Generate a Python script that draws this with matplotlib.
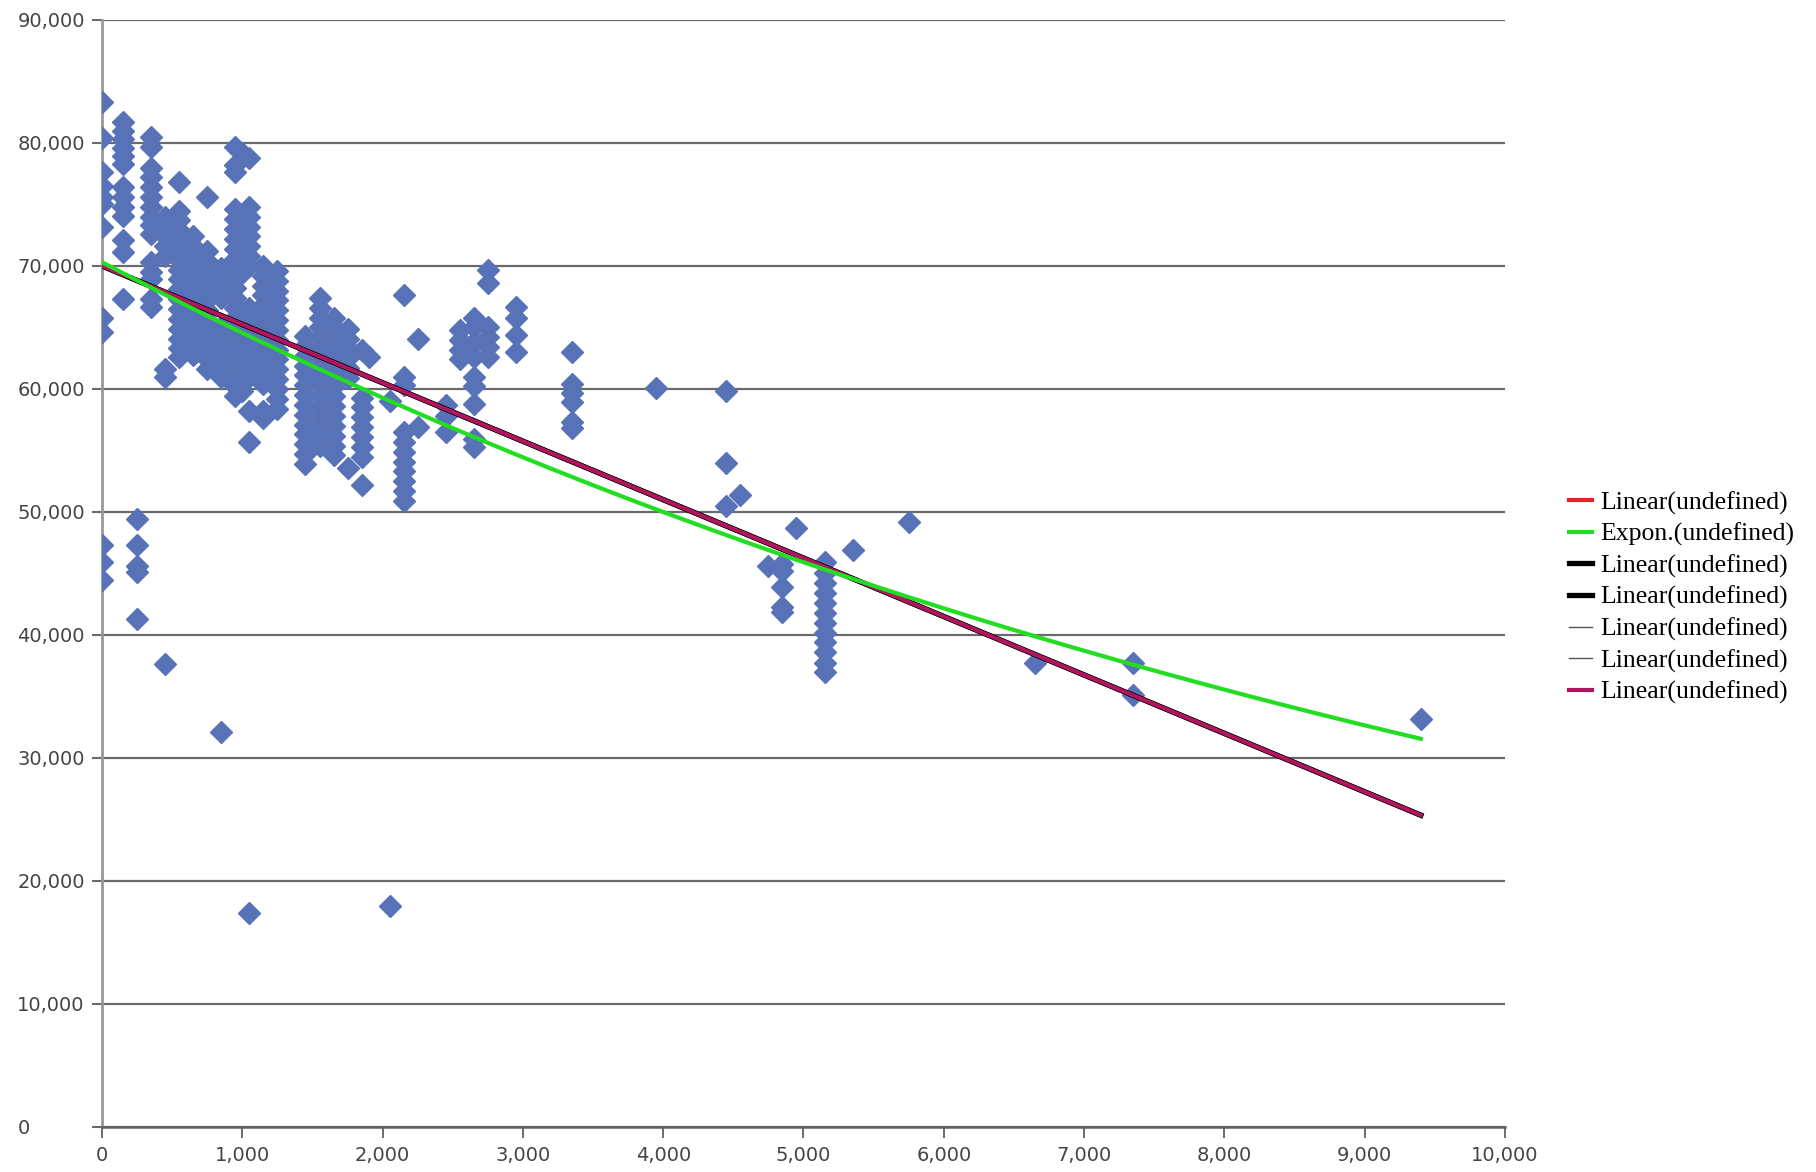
import numpy as np
import matplotlib
matplotlib.use("Agg")
import matplotlib.pyplot as plt
from matplotlib.ticker import FuncFormatter, MultipleLocator

# x position of each column of points, and the y values read in that column
col_x = [0, 150, 250, 350, 450, 550, 650, 750, 850, 950, 1000, 1050, 1150, 1250,
         1450, 1550, 1650, 1750, 1850, 1900, 2050, 2150, 2250, 2450, 2550, 2650,
         2750, 2950, 3350, 3950, 4450, 4550, 4750, 4850, 4950, 5150, 5350, 5750,
         6650, 7350, 9400]
col_y = [
    [83300, 80400, 77600, 76500, 75600, 75000, 73200, 65800, 64600, 47300, 45900, 44500],
    [81700, 81000, 80300, 79600, 78900, 78300, 76400, 75600, 74800, 74100, 72100, 71100, 67300],
    [49400, 47300, 45600, 45100, 41300],
    [80500, 79700, 78000, 77200, 76400, 75600, 74800, 74000, 73300, 72600, 70300, 69500, 68900, 67300, 66700],
    [74000, 73200, 72400, 71600, 70800, 61600, 61000, 37600],
    [76800, 74500, 73700, 72900, 72100, 71300, 70500, 69700, 68900, 68100, 67300, 66500, 65700, 64900, 64100, 63300, 62600],
    [72400, 71600, 70800, 70000, 69200, 68400, 67600, 66800, 66000, 65200, 64400, 63600, 62800],
    [75600, 71200, 70400, 69600, 68800, 68000, 67200, 66400, 65600, 64800, 64000, 63200, 62400, 61600],
    [69800, 69000, 68200, 67400, 65000, 64200, 63400, 62600, 61800, 61000, 32100],
    [79700, 78200, 77600, 74600, 73800, 73000, 72200, 71400, 70600, 69800, 69000, 68200, 67400, 66600,
     65800, 65000, 64200, 63400, 62600, 61800, 61000, 60200, 59400],
    [79200, 74200, 72600, 71000, 69400, 66200, 64600, 63000, 61400, 59800],
    [78800, 74800, 74000, 73200, 72400, 71600, 70800, 70000, 66600, 65800, 65000, 64200, 63400, 62600,
     61800, 61000, 58200, 55700, 17400],
    [70000, 69200, 68400, 67600, 66800, 66000, 65200, 64400, 63600, 62800, 62000, 61200, 60400, 58200, 57600],
    [69600, 68800, 68000, 67200, 66400, 65600, 64800, 64000, 63200, 62400, 61600, 60800, 60000, 59200, 58400],
    [64300, 63500, 62700, 61900, 61100, 60300, 59500, 58700, 57900, 57100, 56300, 55500, 54700, 53900],
    [67400, 66600, 65800, 65000, 64200, 63400, 62600, 61800, 61000, 60200, 59400, 58600, 57800, 57000, 56200, 55400],
    [65800, 65000, 64200, 63400, 62600, 61800, 61000, 60200, 59400, 58600, 57800, 57000, 56200, 55400, 54600],
    [64900, 64100, 63300, 62500, 61700, 60900, 53600],
    [63200, 59300, 58500, 57700, 56900, 56100, 55300, 54500, 52200],
    [62600],
    [59000, 18000],
    [67600, 61000, 60300, 56500, 55700, 54900, 54100, 53300, 52500, 51700, 50900],
    [64100, 56900],
    [58700, 57800, 56500],
    [64800, 64000, 63200, 62400],
    [65800, 65000, 63800, 62600, 61000, 60200, 58800, 55900, 55300],
    [69700, 68600, 65000, 64200, 63400, 62600],
    [66700, 65800, 64400, 63000],
    [63000, 60400, 59700, 58900, 57300, 56800],
    [60100],
    [59800, 54000, 50500],
    [51400],
    [45600],
    [45800, 45200, 43900, 42300, 41900],
    [48700],
    [45900, 45000, 44200, 43400, 42600, 41800, 41000, 40200, 39400, 38600, 37700, 37000],
    [46900],
    [49200],
    [37700],
    [37700, 35100],
    [33200],
]

# trend line coefficients
lin_intercept = 70000
lin_slope = -4.75
exp_a = 70300
exp_b = -8.52e-5
trend_end = 9400

legend_labels = ["Linear(undefined)", "Expon.(undefined)", "Linear(undefined)",
                 "Linear(undefined)", "Linear(undefined)", "Linear(undefined)",
                 "Linear(undefined)"]

xs, ys = [], []
for cx, vals in zip(col_x, col_y):
    for v in vals:
        xs.append(cx)
        ys.append(v)

fig = plt.figure(figsize=(18.16, 11.72), dpi=100)
ax = fig.add_axes([0.0562, 0.0384, 0.7725, 0.9446])

point_color = "#5872b8"
ax.plot(xs, ys, linestyle="none", marker="D", markersize=11,
        color=point_color, markeredgecolor=point_color, zorder=3)

tx = np.linspace(0, trend_end, 200)
lin_y = lin_intercept + lin_slope * tx
exp_y = exp_a * np.exp(exp_b * tx)

h1, = ax.plot(tx, lin_y, color="#e8202a", lw=3, zorder=4)
h2, = ax.plot(tx, exp_y, color="#22dd22", lw=3, zorder=6)
h3, = ax.plot(tx, lin_y, color="black", lw=3.8, zorder=4)
h4, = ax.plot(tx, lin_y, color="black", lw=3.8, zorder=4)
h5, = ax.plot(tx, lin_y, color="#555555", lw=1, zorder=4)
h6, = ax.plot(tx, lin_y, color="#555555", lw=1, zorder=4)
h7, = ax.plot(tx, lin_y, color="#b0165e", lw=3, zorder=5)

ax.set_xlim(0, 10000)
ax.set_ylim(0, 90000)
ax.xaxis.set_major_locator(MultipleLocator(1000))
ax.yaxis.set_major_locator(MultipleLocator(10000))
fmt = FuncFormatter(lambda v, p: f"{v:,.0f}")
ax.xaxis.set_major_formatter(fmt)
ax.yaxis.set_major_formatter(fmt)

ax.grid(axis="y", color="#6a6a6a", lw=1.6, zorder=1)
ax.set_axisbelow(True)
for s in ["top", "right"]:
    ax.spines[s].set_visible(False)
ax.spines["left"].set_color("#999999")
ax.spines["left"].set_linewidth(2)
ax.spines["bottom"].set_color("#606060")
ax.spines["bottom"].set_linewidth(1.8)

ax.tick_params(axis="y", direction="out", length=7, width=1.5, color="#6a6a6a",
               labelsize=14, labelcolor="#444444", pad=54)
ax.tick_params(axis="x", direction="out", length=8, width=1.3, color="#606060",
               labelsize=14, labelcolor="#444444", pad=6)
for lab in ax.get_yticklabels():
    lab.set_horizontalalignment("left")

leg = fig.legend([h1, h2, h3, h4, h5, h6, h7], legend_labels,
                 loc="center left", bbox_to_anchor=(0.864, 0.49),
                 frameon=False, prop={"family": "Liberation Serif", "size": 18.5},
                 handlelength=0.9, handletextpad=0.3, labelspacing=0.32,
                 borderpad=0, borderaxespad=0)

fig.savefig("out.png", dpi=100)
